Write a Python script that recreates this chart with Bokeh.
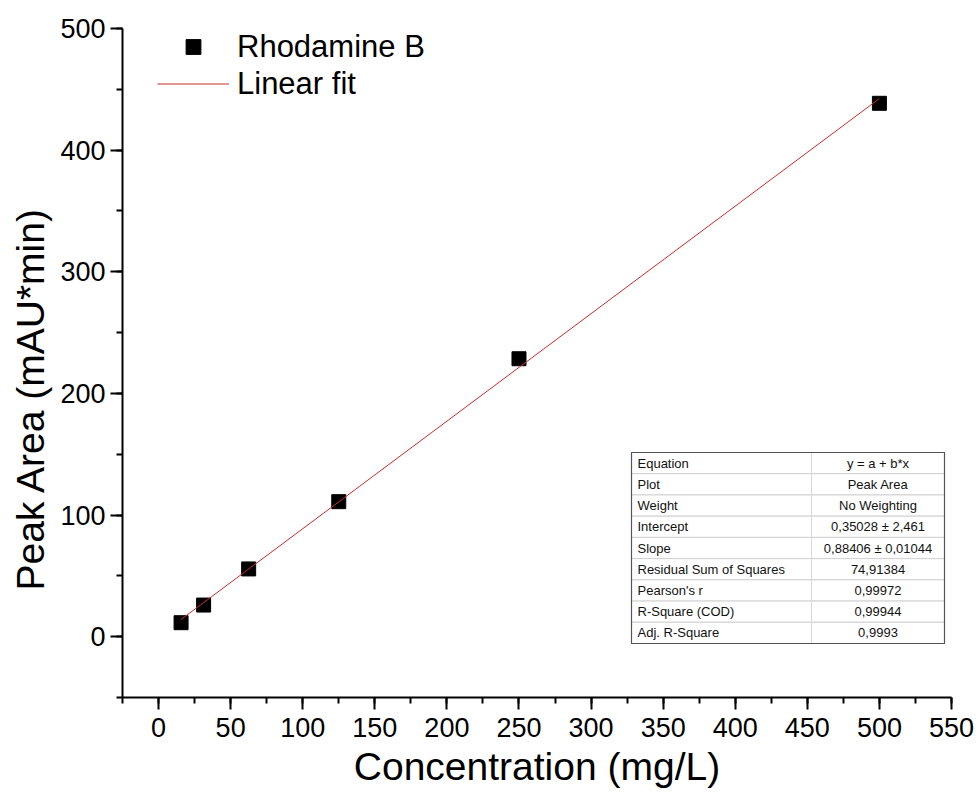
from bokeh.plotting import figure
from bokeh.models import Range1d, SingleIntervalTicker, Legend, LegendItem, ColumnDataSource, Title
from bokeh.core.properties import value
from bokeh.embed import file_html
from bokeh.resources import INLINE

# ---- data ----
concentration = [15.625, 31.25, 62.5, 125, 250, 500]
peak_area = [11.5, 26.0, 55.7, 111.0, 228.5, 438.5]
fit_intercept = 0.35028
fit_slope = 0.88406
table_labels = ["Equation", "Plot", "Weight", "Intercept", "Slope",
                "Residual Sum of Squares", "Pearson's r", "R-Square (COD)", "Adj. R-Square"]
table_values = ["y = a + b*x", "Peak Area", "No Weighting", "0,35028 \u00b1 2,461",
                "0,88406 \u00b1 0,01044", "74,91384", "0,99972", "0,99944", "0,9993"]
x_title = "Concentration (mg/L)"
y_title = "Peak Area (mAU*min)"

FONT = "Liberation Sans"

# ---- layout ----
X0, X1 = -25, 550
Y0, Y1 = -50, 500
FL, FT, FW, FH = 122, 28, 829, 669
W, H = 980, 804

p = figure(width=W, height=H, frame_width=FW, frame_height=FH,
           min_border_left=FL, min_border_right=W - FL - FW,
           min_border_top=FT, min_border_bottom=H - FT - FH,
           x_range=Range1d(X0, X1), y_range=Range1d(Y0, Y1),
           output_backend="svg", toolbar_location=None)
p.outline_line_color = None
p.grid.visible = False
p.background_fill_color = "white"
p.border_fill_color = "white"

def px2x(px):
    return X0 + (px - FL) * (X1 - X0) / FW

def py2y(py):
    return Y1 - (py - FT) * (Y1 - Y0) / FH

# axes
p.xaxis.ticker = SingleIntervalTicker(interval=50, num_minor_ticks=2)
p.yaxis.ticker = SingleIntervalTicker(interval=100, num_minor_ticks=2)
for ax in (p.xaxis, p.yaxis):
    ax.axis_line_width = 2
    ax.axis_line_color = "black"
    ax.major_tick_line_width = 2
    ax.minor_tick_line_width = 2
    ax.major_tick_line_color = "black"
    ax.minor_tick_line_color = "black"
    ax.major_tick_out = 12
    ax.major_tick_in = 0
    ax.minor_tick_out = 6
    ax.minor_tick_in = 0
    ax.major_label_text_font = FONT
    ax.major_label_text_font_size = "27px"
    ax.major_label_text_color = "black"
    ax.axis_label_text_font = FONT
    ax.axis_label_text_font_style = "normal"
    ax.axis_label_text_color = "black"
p.xaxis.axis_label = x_title
p.xaxis.axis_label_text_font_size = "39px"
p.xaxis.major_label_standoff = 8
p.yaxis.major_label_standoff = 5
p.xaxis.axis_label_standoff = 5

# y title as a left-side title, placed along the axis like the reference
p.add_layout(Title(text=y_title, align="left", offset=107, standoff=11,
                   text_font=FONT, text_font_size="39px", text_font_style="normal",
                   text_color="black"), "left")

# ---- table (fit results) ----
TL, TR, TD, TT, TB = 631, 944, 811, 452, 643
n = len(table_labels)
rh = (TB - TT) / n
row_tops = [py2y(TT + i * rh) for i in range(n)]
row_bots = [py2y(TT + (i + 1) * rh) for i in range(n)]
row_mid = [py2y(TT + (i + 0.5) * rh) for i in range(n)]
p.quad(left=[px2x(TL)] * n, right=[px2x(TR)] * n, top=row_tops, bottom=row_bots,
       fill_color="white", line_color="#d0d0d0", line_width=1)
p.segment(x0=[px2x(TD)], y0=[py2y(TT)], x1=[px2x(TD)], y1=[py2y(TB)],
          line_color="#d8d8d8", line_width=1)
p.quad(left=[px2x(TL)], right=[px2x(TR)], top=[py2y(TT)], bottom=[py2y(TB)],
       fill_color=None, line_color="#555555", line_width=1.2)
p.text(x=[px2x(TL + 6)] * n, y=row_mid, text=table_labels,
       text_font=value(FONT), text_font_size="13px", text_color="#111111",
       text_align="left", text_baseline="middle")
p.text(x=[px2x((TD + TR) / 2)] * n, y=row_mid, text=table_values,
       text_font=value(FONT), text_font_size="13px", text_color="#111111",
       text_align="center", text_baseline="middle")

# ---- data & fit ----
src = ColumnDataSource(dict(x=concentration, y=peak_area))
r_pts = p.scatter("x", "y", source=src, marker="square", size=14,
                  fill_color="black", line_color="black")
fx = [min(concentration), max(concentration)]
fy = [fit_intercept + fit_slope * v for v in fx]
r_fit = p.line(fx, fy, line_color="#cc2b2b", line_width=1)

legend = Legend(items=[LegendItem(label="Rhodamine B", renderers=[r_pts]),
                       LegendItem(label="Linear fit", renderers=[r_fit])],
                location=(35, 595), margin=0, padding=0, spacing=0,
                glyph_width=72, glyph_height=37, label_height=37,
                label_standoff=8, label_text_font=FONT,
                label_text_font_size="31px", label_text_color="black",
                border_line_color=None, background_fill_alpha=0)
p.add_layout(legend, "center")

open("out.html", "w").write(file_html(p, INLINE))
